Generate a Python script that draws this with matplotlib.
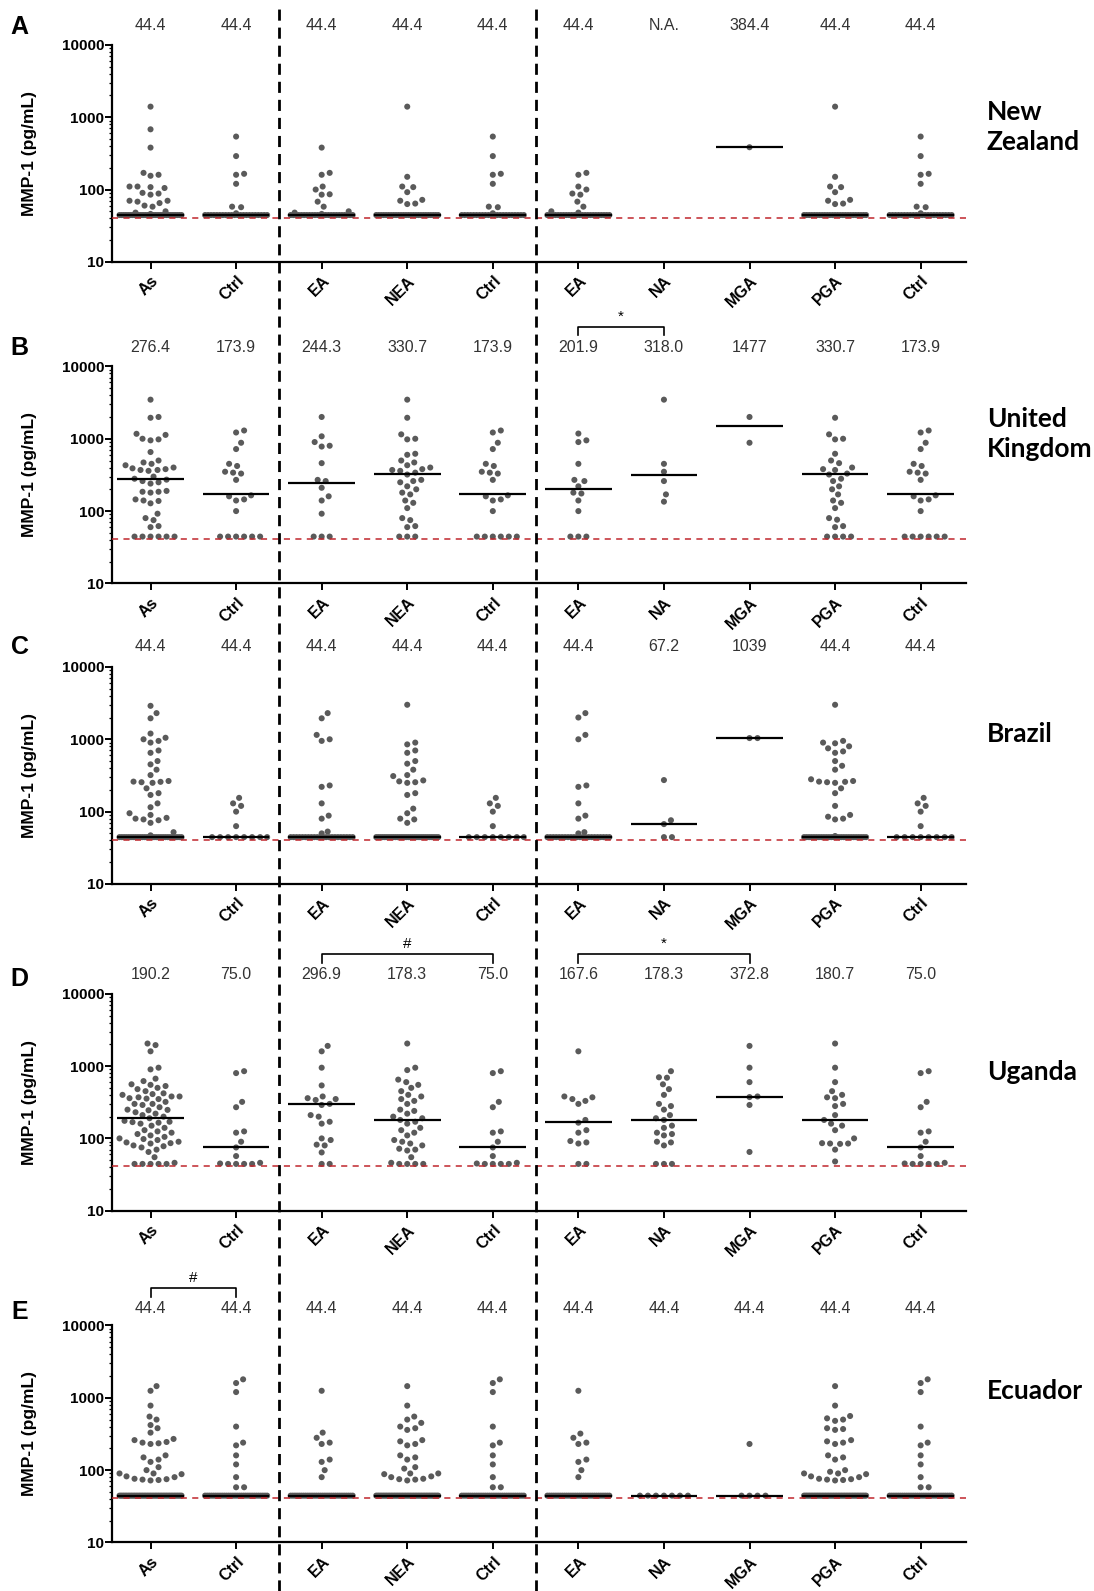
import numpy as np
import matplotlib
matplotlib.use('Agg')
import matplotlib.pyplot as plt
from matplotlib.lines import Line2D
from matplotlib.ticker import LogLocator, NullFormatter
from matplotlib.transforms import blended_transform_factory, ScaledTranslation

plt.rcParams['font.family'] = ['Liberation Sans', 'DejaVu Sans']

categories = ['As', 'Ctrl', 'EA', 'NEA', 'Ctrl', 'EA', 'NA', 'MGA', 'PGA', 'Ctrl']
LOD = 44.4          # values at the detection limit
cutoff = 41         # red dashed line

# ---- A: New Zealand
nz_as = [1400, 680, 380, 170, 160, 155, 110, 110, 105, 108, 90, 88, 85, 70, 68, 65, 70, 60, 58, 50, 48, 46] + [LOD] * 30
nz_ctrl = [540, 290, 165, 160, 120, 58, 57, 47] + [LOD] * 22
nz_ea = [380, 170, 160, 110, 100, 85, 86, 68, 58, 50, 48, 46] + [LOD] * 24
nz_nea = [1400, 150, 110, 108, 92, 72, 70, 64, 63] + [LOD] * 26
nz_ea2 = [170, 160, 110, 100, 88, 85, 68, 58, 50, 48] + [LOD] * 24
nz_na = []
nz_mga = [384.4]
nz_pga = [1400, 150, 110, 108, 92, 72, 70, 64, 63] + [LOD] * 25
nz_labels = ['44.4', '44.4', '44.4', '44.4', '44.4', '44.4', 'N.A.', '384.4', '44.4', '44.4']

# ---- B: United Kingdom
uk_as = [3470, 2000, 1950, 1170, 1130, 1000, 980, 950, 655, 500, 470, 450, 430, 400, 390, 380, 370, 370, 360,
         300, 280, 272, 260, 250, 240, 185, 185, 180, 190, 140, 145, 138, 128, 92, 80, 75, 62, 60] + [LOD] * 6
uk_ctrl = [1300, 1220, 880, 720, 450, 420, 350, 340, 330, 270, 165, 160, 145, 140, 100] + [LOD] * 6
uk_ea = [2000, 1080, 900, 800, 780, 460, 270, 260, 210, 160, 140, 92] + [LOD] * 3
uk_nea = [3470, 1950, 1150, 1000, 980, 620, 600, 500, 470, 430, 400, 380, 370, 360, 340, 320, 270, 260, 250,
          220, 200, 180, 170, 140, 130, 110, 80, 75, 62, 60] + [LOD] * 3
uk_ea2 = [1180, 950, 900, 450, 270, 260, 220, 180, 175, 140, 100] + [LOD] * 3
uk_na = [3470, 450, 350, 260, 170, 135]
uk_mga = [2000, 880]
uk_pga = [1950, 1150, 1000, 980, 620, 500, 460, 400, 380, 370, 330, 320, 280, 260, 220, 200, 170, 140, 130,
          110, 80, 76, 62, 60] + [LOD] * 4
uk_labels = ['276.4', '173.9', '244.3', '330.7', '173.9', '201.9', '318.0', '1477', '330.7', '173.9']

# ---- C: Brazil
br_as = [2900, 2300, 1950, 1200, 1050, 1000, 950, 900, 700, 650, 500, 450, 380, 320, 265, 260, 258, 255, 250,
         210, 180, 170, 130, 115, 95, 90, 82, 80, 78, 76, 70, 52, 47] + [LOD] * 28
br_ctrl = [155, 130, 120, 100, 63] + [LOD] * 8
br_ea = [2300, 1950, 1150, 1000, 950, 230, 220, 130, 88, 80, 53, 50] + [LOD] * 22
br_nea = [3000, 900, 850, 700, 650, 500, 460, 380, 320, 310, 270, 262, 255, 250, 180, 170, 110, 95, 80, 78,
          70] + [LOD] * 30
br_ea2 = [2300, 2000, 1150, 1000, 230, 220, 130, 88, 80, 52, 50] + [LOD] * 22
br_na = [273, 76, 67.2, LOD, LOD]
br_mga = [1039, 1039]
br_pga = [3000, 950, 900, 880, 800, 750, 680, 650, 500, 430, 380, 280, 265, 260, 258, 255, 250, 210, 180, 120,
          90, 85, 80, 78, 46] + [LOD] * 26
br_labels = ['44.4', '44.4', '44.4', '44.4', '44.4', '44.4', '67.2', '1039', '44.4', '44.4']

# ---- D: Uganda
ug_as = [2050, 1950, 1600, 950, 900, 670, 620, 560, 550, 530, 500, 480, 450, 420, 410, 400, 380, 380, 370,
         360, 355, 350, 320, 300, 300, 290, 270, 250, 248, 245, 230, 220, 210, 200, 190, 175, 170, 168, 165,
         160, 150, 140, 130, 125, 120, 115, 110, 105, 100, 98, 95, 90, 88, 86, 85, 80, 78, 75, 70, 65, 55,
         46] + [LOD] * 5
ug_ctrl = [850, 800, 320, 270, 125, 120, 90, 75, 57, 46, 45] + [LOD] * 4
ug_ea = [1900, 1600, 950, 540, 380, 360, 350, 340, 300, 290, 210, 200, 170, 160, 100, 95, 82, 80, 64,
         LOD, LOD]
ug_nea = [2050, 950, 880, 650, 600, 550, 500, 450, 400, 380, 350, 330, 300, 250, 240, 220, 200, 190, 180,
          170, 160, 140, 130, 120, 110, 95, 90, 85, 80, 72, 70, 68, 55, 46] + [LOD] * 4
ug_ea2 = [1600, 380, 370, 350, 330, 300, 180, 165, 130, 120, 92, 88, 85, LOD, LOD]
ug_na = [850, 700, 690, 560, 480, 400, 300, 280, 250, 210, 190, 180, 150, 140, 120, 115, 110, 90, 88, 80,
         LOD, LOD, LOD]
ug_mga = [1900, 950, 600, 380, 372.8, 290, 65]
ug_pga = [2050, 950, 600, 450, 400, 370, 360, 300, 280, 210, 180, 160, 150, 130, 100, 86, 85, 85, 84, 70, 48]
ug_labels = ['190.2', '75.0', '296.9', '178.3', '75.0', '167.6', '178.3', '372.8', '180.7', '75.0']

# ---- E: Ecuador
ec_as = [1450, 1250, 780, 550, 500, 420, 380, 330, 270, 260, 245, 240, 235, 230, 160, 150, 140, 130, 110,
         100, 90, 90, 88, 82, 80, 76, 75, 74, 73, 72] + [LOD] * 40
ec_ctrl = [1800, 1600, 1200, 400, 240, 220, 160, 120, 80, 58, 58] + [LOD] * 30
ec_ea = [1250, 330, 280, 240, 230, 140, 130, 100, 80] + [LOD] * 30
ec_nea = [1450, 780, 550, 500, 450, 400, 380, 360, 260, 250, 230, 220, 160, 150, 140, 110, 105, 90, 90, 88,
          82, 80, 76, 75, 74, 72] + [LOD] * 40
ec_ea2 = [1250, 320, 280, 240, 230, 140, 130, 100, 80] + [LOD] * 30
ec_na = [LOD] * 7
ec_mga = [230] + [LOD] * 4
ec_pga = [1450, 780, 560, 520, 500, 480, 380, 370, 360, 260, 250, 240, 230, 160, 150, 140, 100, 95, 90, 90,
          88, 82, 80, 76, 75, 74, 73, 72] + [LOD] * 40
ec_labels = ['44.4'] * 10

panels = [
    ('A', 'New\nZealand', [nz_as, nz_ctrl, nz_ea, nz_nea, nz_ctrl, nz_ea2, nz_na, nz_mga, nz_pga, nz_ctrl],
     nz_labels, []),
    ('B', 'United\nKingdom', [uk_as, uk_ctrl, uk_ea, uk_nea, uk_ctrl, uk_ea2, uk_na, uk_mga, uk_pga, uk_ctrl],
     uk_labels, [(5, 6, '*')]),
    ('C', 'Brazil', [br_as, br_ctrl, br_ea, br_nea, br_ctrl, br_ea2, br_na, br_mga, br_pga, br_ctrl],
     br_labels, []),
    ('D', 'Uganda', [ug_as, ug_ctrl, ug_ea, ug_nea, ug_ctrl, ug_ea2, ug_na, ug_mga, ug_pga, ug_ctrl],
     ug_labels, [(2, 4, '#'), (5, 7, '*')]),
    ('E', 'Ecuador', [ec_as, ec_ctrl, ec_ea, ec_nea, ec_ctrl, ec_ea2, ec_na, ec_mga, ec_pga, ec_ctrl],
     ec_labels, [(0, 1, '#')]),
]

# layout (figure fractions)
bottoms = [0.8354, 0.6333, 0.4444, 0.2390, 0.0305]
letter_y = [0.9828, 0.7812, 0.5931, 0.3845, 0.1753]
country_y = [0.920, 0.7273, 0.5388, 0.3265, 0.1255]
label_y = [1.088, 1.088, 1.092, 1.088, 1.077]
ax_left, ax_w, ax_h = 0.1024, 0.7806, 0.1364

PX_X = 85.5   # pixels per category
PX_Y = 72.3   # pixels per decade
DOT = 7.5     # collision distance (px)


def swarm(values, half=31):
    vals = np.asarray(values, float)
    ys = np.log10(vals) * PX_Y
    xs = np.zeros(len(vals))
    done = np.zeros(len(vals), bool)
    px, py = [], []
    uniq, counts = np.unique(vals, return_counts=True)
    for u, c in zip(uniq, counts):
        if c * DOT > 2 * half:
            idx = np.where(vals == u)[0]
            xs[idx] = np.linspace(-half, half, c)
            done[idx] = True
            px += list(xs[idx]); py += list(ys[idx])
    cands = [0]
    for k in range(1, half + 1):
        cands += [k, -k]
    for i in np.argsort(vals, kind='stable'):
        if done[i]:
            continue
        best, best_d = 0, -1
        ax_ = np.array(px); ay_ = np.array(py)
        for c in cands:
            dmin = np.min(np.hypot(ax_ - c, ay_ - ys[i])) if len(ax_) else 1e9
            if dmin >= DOT:
                best = c
                break
            if dmin > best_d:
                best_d, best = dmin, c
        xs[i] = best
        px.append(best); py.append(ys[i])
    return xs / PX_X


fig = plt.figure(figsize=(10.94, 15.91), dpi=100)
axes = []
for k, (letter, country, groups, labels, brackets) in enumerate(panels):
    ax = fig.add_axes([ax_left, bottoms[k], ax_w, ax_h])
    axes.append(ax)
    for j, vals in enumerate(groups):
        if len(vals) > 0:
            xo = swarm(vals)
            ax.scatter(j + xo, vals, s=19, color='#5a5a5a', edgecolors='none', zorder=3, clip_on=False)
        lab = labels[j]
        if lab != 'N.A.':
            ax.plot([j - 0.39, j + 0.39], [float(lab)] * 2, color='black', lw=1.6, zorder=4,
                    solid_capstyle='butt')
        ax.text(j, label_y[k], lab, transform=ax.get_xaxis_transform(), ha='center', va='center',
                fontsize=11.5, color='#333333')
    ax.axhline(cutoff, color='#c0262c', lw=1.1, dashes=(4, 3.5), zorder=5)

    for a, b, sym in brackets:
        yb = label_y[k] + 0.095
        ax.plot([a, a, b, b], [yb - 0.04, yb, yb, yb - 0.04], color='black', lw=1.2,
                transform=ax.get_xaxis_transform(), clip_on=False)
        ax.text((a + b) / 2, yb + 0.045, sym, transform=ax.get_xaxis_transform(), ha='center',
                va='center', fontsize=11)

    ax.set_yscale('log')
    ax.set_ylim(10, 10000)
    ax.set_xlim(-0.45, 9.53)
    for s in ['top', 'right']:
        ax.spines[s].set_visible(False)
    for s in ['left', 'bottom']:
        ax.spines[s].set_linewidth(1.6)
    ax.set_yticks([10, 100, 1000, 10000])
    ax.set_yticklabels(['10', '100', '1000', '10000'], fontweight='bold', fontsize=11)
    ax.yaxis.set_minor_locator(LogLocator(base=10, subs=np.arange(2, 10), numticks=20))
    ax.yaxis.set_minor_formatter(NullFormatter())
    ax.tick_params(axis='y', which='major', length=5, width=1.4, pad=0.5)
    ax.tick_params(axis='y', which='minor', length=2.5, width=0.9)
    ax.set_xticks(range(len(categories)))
    ax.set_xticklabels(categories, rotation=45, ha='right', va='center', rotation_mode='anchor',
                       fontweight='bold', fontsize=11.5)
    ax.tick_params(axis='x', length=5, width=1.4, pad=7)
    offset = ScaledTranslation(4 / 72, 0, fig.dpi_scale_trans)
    for t in ax.get_xticklabels():
        t.set_transform(t.get_transform() + offset)
    ax.set_ylabel('MMP-1 (pg/mL)', fontweight='bold', fontsize=12.5)
    ax.yaxis.set_label_coords(-0.088, 0.5)

    fig.text(0.018, letter_y[k], letter, fontsize=18, fontweight='bold', ha='center', va='center')
    fig.text(0.902, country_y[k], country, fontsize=19, fontweight='bold', family=['Lato', 'DejaVu Sans'],
             ha='left', va='center', linespacing=1.3)

# group separators spanning the whole figure
trans = blended_transform_factory(axes[0].transData, fig.transFigure)
for xv in [1.5, 4.5]:
    fig.add_artist(Line2D([xv, xv], [0.0, 0.997], transform=trans, color='black', lw=2.0,
                          dashes=(4, 2.5), zorder=10))

fig.savefig('out.png', dpi=100)
